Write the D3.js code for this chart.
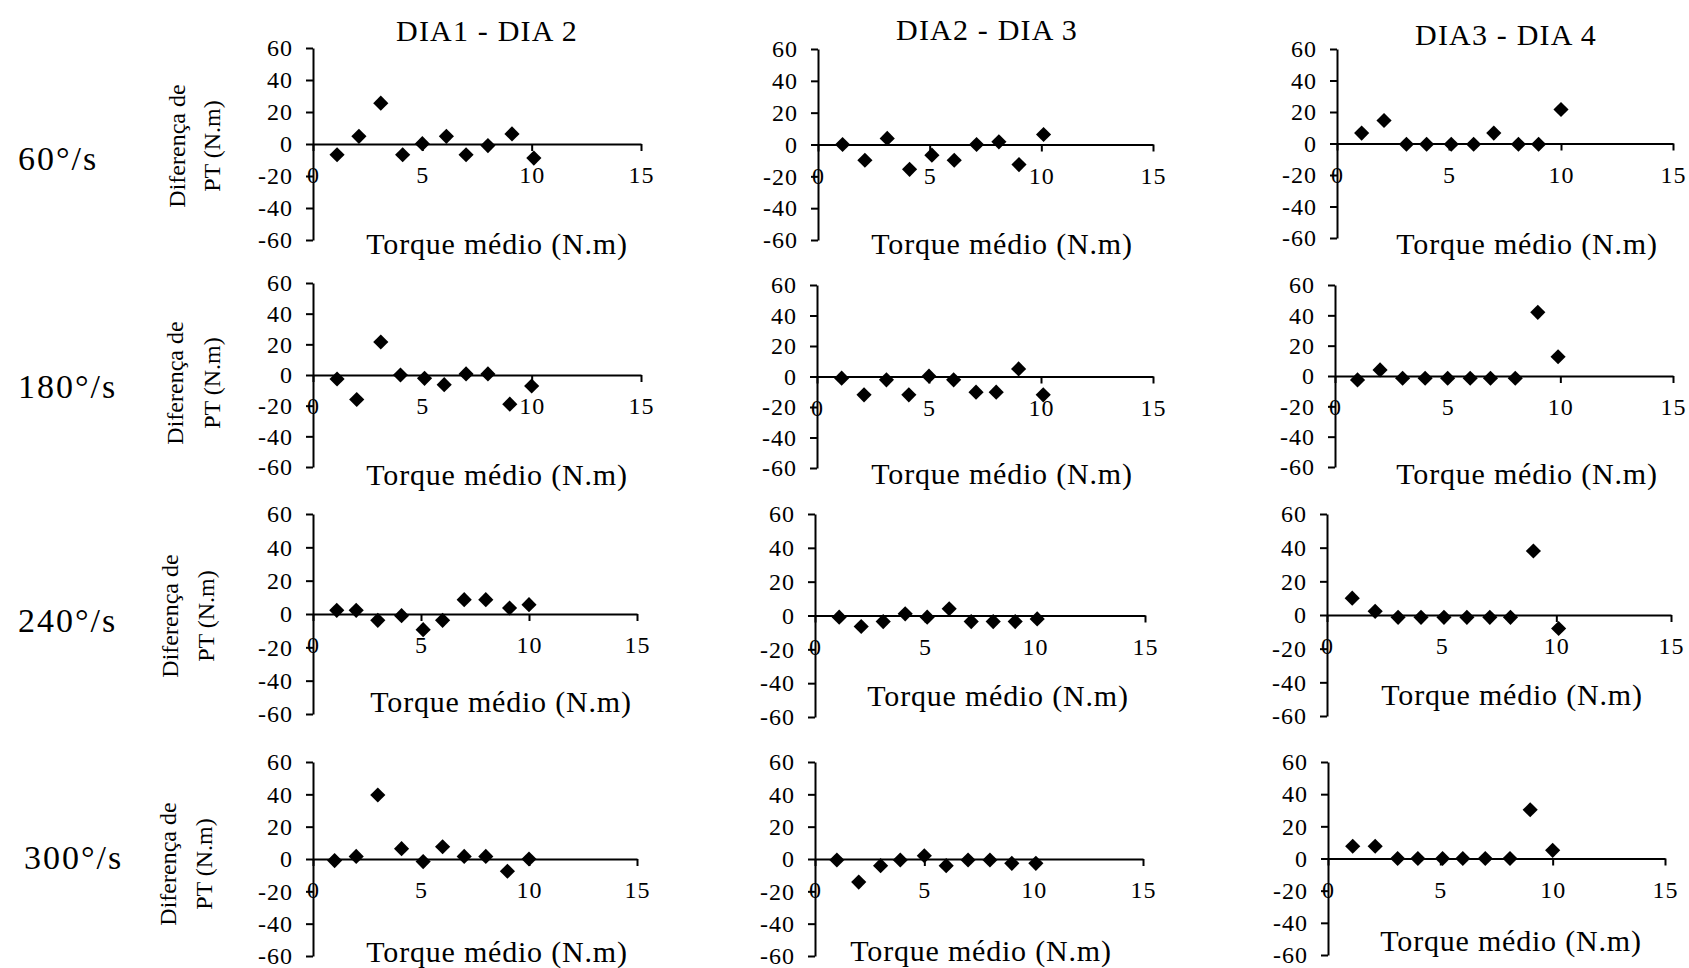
<!DOCTYPE html>
<html>
<head>
<meta charset="utf-8">
<script src="https://cdn.jsdelivr.net/npm/d3@7"></script>
<style>
  body { margin: 0; background: #fff; }
  text { font-family: "Liberation Serif", "Times New Roman", serif; fill: #000; }
  .axis .domain, .axis line { stroke: #000; stroke-width: 2; }
  .axis text { font-family: "Liberation Serif", "Times New Roman", serif; font-size: 24px; letter-spacing: 1px; }
</style>
</head>
<body>
<svg id="chart" width="1689" height="968"></svg>
<script>
// row / column labels
const speeds = ["60°/s", "180°/s", "240°/s", "300°/s"];
const comparisons = ["DIA1 - DIA 2", "DIA2 - DIA 3", "DIA3 - DIA 4"];
const xTicks = [0, 5, 10, 15];
const yTicks = [-60, -40, -20, 0, 20, 40, 60];
const xTitle = "Torque médio (N.m)";
const yTitle = ["Diferença de", "PT (N.m)"];

// [torque médio, diferença de PT] per panel
const d12_60 = [[1.1, -6.7], [2.1, 4.8], [3.1, 25.5], [4.1, -6.7], [5.0, 0.2], [6.1, 4.8], [7.0, -6.7], [8.0, -1], [9.1, 6.3], [10.1, -8.8]];
const d23_60 = [[1.1, 0], [2.1, -9.9], [3.1, 3.8], [4.1, -15.6], [5.1, -6.7], [6.1, -9.9], [7.1, 0], [8.1, 1.7], [9.0, -12.6], [10.1, 6.3]];
const d34_60 = [[1.1, 6.6], [2.1, 14.6], [3.1, -0.5], [4.0, -0.5], [5.1, -0.5], [6.1, -0.5], [7.0, 6.6], [8.1, -0.5], [9.0, -0.5], [10.0, 21.6]];

const d12_180 = [[1.1, -2.6], [2.0, -16], [3.1, 21.5], [4.0, 0], [5.1, -2.2], [6.0, -6.3], [7.0, 0.7], [8.0, 0.7], [9.0, -19], [10.0, -7.2]];
const d23_180 = [[1.1, -1.1], [2.1, -12], [3.1, -2.2], [4.1, -12], [5.0, 0.2], [6.1, -2.2], [7.1, -10.3], [8.0, -10.3], [9.0, 5], [10.1, -12]];
const d34_180 = [[1.0, -2.6], [2.0, 4], [3.0, -1.5], [4.0, -1.5], [5.0, -1.5], [6.0, -1.5], [6.9, -1.5], [8.0, -1.5], [9.0, 42], [9.9, 12.7]];

const d12_240 = [[1.1, 2.2], [2.0, 2.2], [3.0, -3.8], [4.1, -1], [5.1, -9.4], [6.0, -3.8], [7.0, 8.6], [8.0, 8.6], [9.1, 3.6], [10.0, 5.6]];
const d23_240 = [[1.1, -1], [2.1, -6.5], [3.1, -3.6], [4.1, 1], [5.1, -1], [6.1, 4], [7.1, -3.6], [8.1, -3.6], [9.1, -3.6], [10.1, -2]];
const d34_240 = [[1.1, 10], [2.1, 2.2], [3.1, -1.4], [4.1, -1.4], [5.1, -1.4], [6.1, -1.4], [7.1, -1.4], [8.0, -1.4], [9.0, 38], [10.1, -8]];

const d12_300 = [[1.0, -1], [2.0, 1.6], [3.0, 39.6], [4.1, 6.4], [5.1, -1.6], [6.0, 7.6], [7.0, 1.6], [8.0, 1.6], [9.0, -7.6], [10.0, 0]];
const d23_300 = [[1.0, -0.6], [2.0, -14.3], [3.0, -4.1], [3.9, -0.6], [5.0, 2], [6.0, -4.1], [7.0, -0.6], [8.0, -0.6], [9.0, -2.7], [10.1, -2.7]];
const d34_300 = [[1.1, 7.6], [2.1, 7.6], [3.1, 0], [4.0, 0], [5.1, 0], [6.0, 0], [7.0, 0], [8.1, 0], [9.0, 30.3], [10.0, 5.1]];

const panels = [
  d12_60, d23_60, d34_60,
  d12_180, d23_180, d34_180,
  d12_240, d23_240, d34_240,
  d12_300, d23_300, d34_300
];

// layout: [left, right, top, bottom] of each plot area, in pixels
const boxes = [
  [313, 641, 48, 240], [818, 1153, 49, 240], [1337, 1673, 49, 238],
  [313, 641, 283, 467], [817, 1153, 285, 468], [1335, 1673, 285, 467],
  [313, 637, 514, 714], [815, 1145, 514, 717], [1327, 1671, 514, 716],
  [313, 637, 762, 956], [815, 1143, 762, 956], [1328, 1665, 762, 955]
];
// centre of the x-axis title of each panel
const xTitlePos = [
  [497, 243], [1002, 243], [1527, 243],
  [497, 474], [1002, 473], [1527, 473],
  [501, 701], [998, 695], [1512, 694],
  [497, 951], [981, 950], [1511, 940]
];
const titlePos = [[487, 30], [987, 29], [1506, 34]];
const rowLabelPos = [[18, 158], [18, 386], [18, 620], [24, 857]];
const yTitlePos = [[177, 212, 146], [175, 212, 383], [170, 206, 616], [168, 204, 864]];

const svg = d3.select("#chart");

panels.forEach((data, i) => {
  const [x0, x1, y0, y1] = boxes[i];
  const x = d3.scaleLinear().domain([0, 15]).range([x0, x1]);
  const y = d3.scaleLinear().domain([-60, 60]).range([y1, y0]);

  const g = svg.append("g");

  g.append("g")
    .attr("class", "axis")
    .attr("transform", `translate(${x0},0)`)
    .call(d3.axisLeft(y).tickValues(yTicks).tickFormat(d => String(d))
      .tickSize(7).tickSizeOuter(0).tickPadding(13));

  g.append("g")
    .attr("class", "axis")
    .attr("transform", `translate(0,${y(0)})`)
    .call(d3.axisBottom(x).tickValues(xTicks).tickFormat(d => String(d))
      .tickSize(7).tickSizeOuter(0).tickPadding(15));

  g.selectAll("path.pt")
    .data(data)
    .join("path")
    .attr("class", "pt")
    .attr("d", d3.symbol(d3.symbolSquare, 115))
    .attr("transform", d => `translate(${x(d[0])},${y(d[1])}) rotate(45)`)
    .attr("fill", "#000");

  g.append("text")
    .attr("x", xTitlePos[i][0])
    .attr("y", xTitlePos[i][1])
    .attr("text-anchor", "middle")
    .attr("dominant-baseline", "central")
    .style("font-size", "30px")
    .style("letter-spacing", "0.8px")
    .text(xTitle);
});

comparisons.forEach((t, c) => {
  svg.append("text")
    .attr("x", titlePos[c][0])
    .attr("y", titlePos[c][1])
    .attr("text-anchor", "middle")
    .attr("dominant-baseline", "central")
    .style("font-size", "30px")
    .style("letter-spacing", "1.2px")
    .text(t);
});

speeds.forEach((s, r) => {
  svg.append("text")
    .attr("x", rowLabelPos[r][0])
    .attr("y", rowLabelPos[r][1])
    .attr("dominant-baseline", "central")
    .style("font-size", "34px")
    .style("letter-spacing", "2px")
    .text(s);

  const [lx1, lx2, cy] = yTitlePos[r];
  [lx1, lx2].forEach((lx, k) => {
    svg.append("text")
      .attr("transform", `translate(${lx},${cy}) rotate(-90)`)
      .attr("text-anchor", "middle")
      .attr("dominant-baseline", "central")
      .style("font-size", "24px")
      .text(yTitle[k]);
  });
});
</script>
</body>
</html>
